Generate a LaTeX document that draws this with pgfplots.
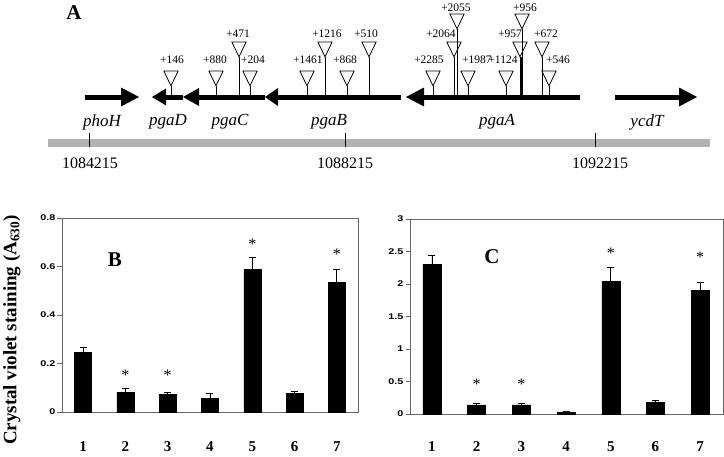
\documentclass[border=0pt]{standalone}
\usepackage{fontspec}
\setmainfont{Liberation Serif}
\setsansfont{Liberation Sans}
\usepackage{pgfplots}
\pgfplotsset{compat=1.18}
\usepackage{pgfplotstable}

% insertion sites: x position (px), tip height above gene line, triangle centre
\pgfplotstableread{
x   tip  c
171 11 21
216 11 21
239 40 50
250 11 21
307 11 21
325 40 50
347 11 21
369 40 50
433 11 21
457 68 78
454 40 50
468 11 21
506 11 21
520 40 50
522 68 78
542 40 50
549 11 21
}\inserts

\pgfplotstableread{
x y e
1 0.245 0.021
2 0.082 0.015
3 0.072 0.010
4 0.057 0.018
5 0.587 0.050
6 0.076 0.010
7 0.536 0.054
}\dataB

\pgfplotstableread{
x y e
1 2.30 0.14
2 0.14 0.03
3 0.14 0.03
4 0.03 0.01
5 2.04 0.22
6 0.18 0.03
7 1.90 0.13
}\dataC

\begin{document}
\begin{tikzpicture}
\path[use as bounding box] (0,0) rectangle (724pt,-456pt);
% ---------- panel A (map), pixel units, gene line at y=0 ----------
\begin{axis}[at={(0pt,0pt)}, anchor=north west, scale only axis,
  width=724pt, height=456pt, xmin=0, xmax=724, ymin=-359, ymax=97,
  hide axis, clip=false]
  % genome bar
  \fill[gray!60] (48,-42) rectangle (710,-50);
  \draw[black, line width=0.8pt] (89,-36) -- (89,-50);
  \draw[black, line width=0.8pt] (345,-36) -- (345,-50);
  \draw[black, line width=0.8pt] (595,-36) -- (595,-50);
  \node[font=\fontsize{16}{18}\selectfont] at (90,-66) {1084215};
  \node[font=\fontsize{16}{18}\selectfont] at (345,-66) {1088215};
  \node[font=\fontsize{16}{18}\selectfont] at (600,-66) {1092215};
  % genes
  \fill (85,-2.5) rectangle (121,2.5);  \fill (121,9.5) -- (139,0) -- (121,-9.5) -- cycle;
  \fill (166,-2.5) rectangle (183,2.5); \fill (166,8.5) -- (152,0) -- (166,-8.5) -- cycle;
  \fill (199,-2.5) rectangle (265,2.5); \fill (199,9) -- (183,0) -- (199,-9) -- cycle;
  \fill (278,-2.5) rectangle (401,2.5); \fill (278,9) -- (265,0) -- (278,-9) -- cycle;
  \fill (424,-2.5) rectangle (580,2.5); \fill (424,9.5) -- (406,0) -- (424,-9.5) -- cycle;
  \fill (615,-2.5) rectangle (679,2.5); \fill (679,9.5) -- (697,0) -- (679,-9.5) -- cycle;
  \begin{scope}[font=\itshape\fontsize{17}{19}\selectfont]
  \node at (102,-25) {phoH};
  \node at (168,-25) {pgaD};
  \node at (230,-25) {pgaC};
  \node at (329,-25) {pgaB};
  \node at (497,-25) {pgaA};
  \node at (647,-25) {ycdT};
  \end{scope}
  % insertion triangles and stems
  \addplot[only marks, mark=triangle, mark size=8.2pt,
    mark options={rotate=180, yscale=1.2, fill=white, draw=black, line width=0.8pt}]
    table[x=x, y=c] {\inserts};
  \addplot[ycomb, black, line width=0.8pt, mark=none] table[x=x, y=tip] {\inserts};
  \addplot[ycomb, black, line width=2pt, mark=none] coordinates {(521,40)};
  \begin{scope}[font=\fontsize{11.5}{12}\selectfont, inner sep=0pt]
  \node at (172,37) {+146};
  \node at (215,37) {+880};
  \node at (238,63) {+471};
  \node at (253,37) {+204};
  \node at (308,37) {+1461};
  \node at (327,63) {+1216};
  \node at (345,37) {+868};
  \node at (366,63) {+510};
  \node at (429,37) {+2285};
  \node at (456,89) {+2055};
  \node at (441,63) {+2064};
  \node at (477,37) {+1987};
  \node at (503,37) {+1124};
  \node at (510,63) {+957};
  \node at (525,89) {+956};
  \node at (546,63) {+672};
  \node at (558,37) {+546};
  \end{scope}
  \node[font=\bfseries\fontsize{21}{24}\selectfont] at (74,84) {A};
  \node[font=\bfseries\fontsize{21}{24}\selectfont] at (115,-163) {B};
  \node[font=\bfseries\fontsize{21}{24}\selectfont] at (492,-160) {C};
  \node[rotate=90, font=\bfseries\fontsize{19}{21}\selectfont] at (12,-233)
    {Crystal violet staining (A\textsubscript{630})};
\end{axis}

% ---------- panel B ----------
\begin{axis}[at={(62pt,-412pt)}, anchor=south west, scale only axis,
  width=296pt, height=194pt, xmin=0.5, xmax=7.5, ymin=0, ymax=0.8,
  ytick={0,0.2,0.4,0.6,0.8}, xtick={1,...,7},
  axis line style={black!60, line width=0.8pt},
  ytick pos=left, tick align=outside, major tick length=4.5pt,
  y tick style={black!60, line width=0.8pt}, xtick style={draw=none},
  /pgf/number format/assume math mode=true,
  yticklabel style={font=\sffamily\bfseries\fontsize{8.3}{10}\selectfont, xscale=1.3, inner sep=1.5pt},
  xticklabel style={font=\bfseries\fontsize{15}{16}\selectfont, yshift=-22pt},
  ybar, bar width=17pt, clip=false]
  \addplot[fill=black, draw=black,
    error bars/.cd, y dir=plus, y explicit,
    error bar style={black, line width=0.8pt},
    error mark options={rotate=90, mark size=3.5pt, line width=0.8pt}]
    table[x=x, y=y, y error=e] {\dataB};
  \begin{scope}[font=\fontsize{16}{16}\selectfont]
  \node at (axis cs:2,0.15) {*};
  \node at (axis cs:3,0.15) {*};
  \node at (axis cs:5,0.69) {*};
  \node at (axis cs:7,0.65) {*};
  \end{scope}
\end{axis}

% ---------- panel C ----------
\begin{axis}[at={(410pt,-414pt)}, anchor=south west, scale only axis,
  width=313pt, height=195pt, xmin=0.51, xmax=7.51, ymin=0, ymax=3,
  ytick={0,0.5,1,1.5,2,2.5,3}, xtick={1,...,7},
  axis line style={black!60, line width=0.8pt},
  ytick pos=left, tick align=outside, major tick length=4.5pt,
  y tick style={black!60, line width=0.8pt}, xtick style={draw=none},
  /pgf/number format/assume math mode=true,
  yticklabel style={font=\sffamily\bfseries\fontsize{8.3}{10}\selectfont, xscale=1.3, inner sep=1.5pt},
  xticklabel style={font=\bfseries\fontsize{15}{16}\selectfont, yshift=-20pt},
  ybar, bar width=18pt, clip=false]
  \addplot[fill=black, draw=black,
    error bars/.cd, y dir=plus, y explicit,
    error bar style={black, line width=0.8pt},
    error mark options={rotate=90, mark size=3.5pt, line width=0.8pt}]
    table[x=x, y=y, y error=e] {\dataC};
  \begin{scope}[font=\fontsize{16}{16}\selectfont]
  \node at (axis cs:2,0.46) {*};
  \node at (axis cs:3,0.46) {*};
  \node at (axis cs:5,2.47) {*};
  \node at (axis cs:7,2.41) {*};
  \end{scope}
\end{axis}
\end{tikzpicture}
\end{document}
